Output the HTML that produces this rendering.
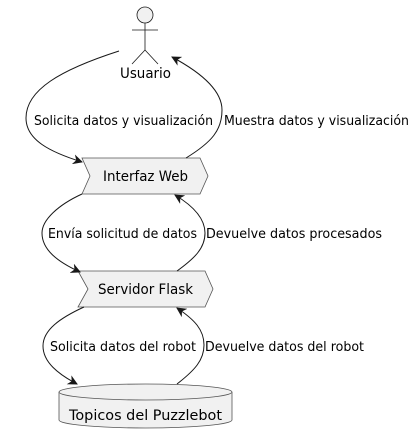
<!DOCTYPE html>
<html><head><meta charset="utf-8"><style>
html,body{margin:0;padding:0;background:#fff;width:416px;height:445px;overflow:hidden}
text{font-family:"DejaVu Sans","Liberation Sans",sans-serif;font-size:13px;fill:#000}
</style></head><body>
<svg width="416" height="445" viewBox="0 0 416 445" xmlns="http://www.w3.org/2000/svg">
<defs><marker id="a" markerWidth="10" markerHeight="10" refX="9" refY="5" orient="auto" markerUnits="userSpaceOnUse">
<path d="M0,0 L10,5 L0,10 L3,5 Z" fill="#181818"/></marker></defs>
<circle cx="145" cy="15" r="8" fill="#f1f1f1" stroke="#181818" stroke-width="0.8"/>
<g stroke="#181818" stroke-width="0.8" fill="none">
<line x1="145" y1="23" x2="145" y2="50"/><line x1="132" y1="30" x2="158" y2="30"/>
<line x1="145" y1="50" x2="132" y2="64"/><line x1="145" y1="50" x2="158" y2="64"/>
</g>
<text x="120" y="78" textLength="51" lengthAdjust="spacingAndGlyphs" style="font-size:14px">Usuario</text>
<polygon points="82,158 200,158 208,176 200,194 82,194 90,176" fill="#f1f1f1" stroke="#555" stroke-width="0.8"/>
<text x="103" y="181" textLength="85" lengthAdjust="spacingAndGlyphs" style="font-size:14px">Interfaz Web</text>
<polygon points="78,271 205,271 213,289 205,307 78,307 88,289" fill="#f1f1f1" stroke="#555" stroke-width="0.8"/>
<text x="98" y="294" textLength="95" lengthAdjust="spacingAndGlyphs" style="font-size:14px">Servidor Flask</text>
<path d="M59,392 A86.5,8 0 0 1 232,392 L232,420 A86.5,8 0 0 1 59,420 Z" fill="#f1f1f1" stroke="#555" stroke-width="0.8"/>
<path d="M59,392 A86.5,8 0 0 0 232,392" fill="none" stroke="#555" stroke-width="0.8"/>
<text x="69" y="420" textLength="153" lengthAdjust="spacingAndGlyphs" style="font-size:14px">Topicos del Puzzlebot</text>
<g stroke="#181818" stroke-width="1" fill="none">
<path d="M119,51 C60,70 26,90 26,118 C26,140 50,152 82,162" marker-end="url(#a)"/>
<path d="M186,158 C212,142 222,130 222,110 C222,90 200,72 172,57" marker-end="url(#a)"/>
<path d="M82,194 C58,205 42,220 42,233 C42,250 58,262 80,272" marker-end="url(#a)"/>
<path d="M177,271 C195,258 205,248 205,233 C205,220 195,207 175,195" marker-end="url(#a)"/>
<path d="M84,307 C60,318 43,330 43,346 C43,362 58,374 77,384" marker-end="url(#a)"/>
<path d="M177,384 C195,370 204,360 204,345 C204,330 195,320 177,308" marker-end="url(#a)"/>
</g>
<text x="34" y="125" textLength="179" lengthAdjust="spacingAndGlyphs">Solicita datos y visualización</text>
<text x="224" y="125" textLength="185" lengthAdjust="spacingAndGlyphs">Muestra datos y visualización</text>
<text x="48" y="238" textLength="149" lengthAdjust="spacingAndGlyphs">Envía solicitud de datos</text>
<text x="206" y="238" textLength="176" lengthAdjust="spacingAndGlyphs">Devuelve datos procesados</text>
<text x="50" y="351" textLength="146" lengthAdjust="spacingAndGlyphs">Solicita datos del robot</text>
<text x="205" y="351" textLength="159" lengthAdjust="spacingAndGlyphs">Devuelve datos del robot</text>
</svg>
</body></html>
